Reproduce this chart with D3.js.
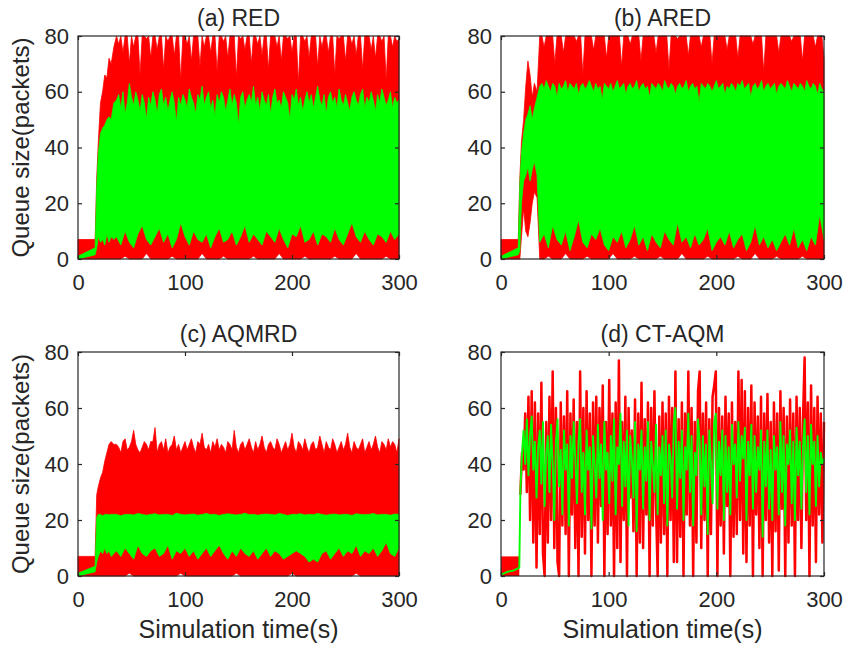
<!DOCTYPE html>
<html>
<head>
<meta charset="utf-8">
<script src="https://cdn.jsdelivr.net/npm/d3@7"></script>
<style>
  body { margin: 0; background: #fff; }
  text { font-family: "Liberation Sans", Arial, sans-serif; fill: #262626; }
</style>
</head>
<body>
<div id="chart"></div>
<script>
// time grids: start-up part, then upper edges every 2 s and lower edges every 4 s
var tStart = [0, 16, 17.5, 19, 21, 23, 25, 27, 29, 31, 33.5];
var tTop = tStart.concat(d3.range(36, 301, 2));
var tBot = tStart.concat(d3.range(36, 301, 4));

var xTicks = [0, 100, 200, 300];
var yTicks = [0, 20, 40, 60, 80];

// (a) RED - upper / lower envelopes of the queue traces
var redHiA = [7,7,29,42,56,60,66,65,72,70,76,
  80,77,80,74,80,80,70,80,76,80, 80,66,80,80,79,80,72,80,80,75,
  80,80,68,80,78,80,80,73,80,80, 64,80,80,77,80,71,80,80,80,69,
  80,76,80,80,74,80,80,67,80,80, 78,80,72,80,80,80,65,80,79,80,
  75,80,80,70,80,80,77,80,73,80, 80,68,80,80,80,76,80,71,80,80,
  79,80,74,80,80,63,80,80,78,80, 72,80,80,80,69,80,76,80,80,74,
  80,80,66,80,79,80,80,71,80,80, 77,80,73,80,80,68,80,80,80,75,
  80,72,80,80,78,80,64,80,80,76, 80,78,79];
var redLoA = [0,0,0,0,0,0,0,0,0,0,0,
  0,0,1,0,0,0,0,2,0,0, 0,0,0,1,0,0,0,0,0,0, 2,0,0,0,0,1,0,0,0,0,
  0,0,1,0,0,0,0,0,2,0, 0,0,0,0,1,0,0,0,0,0, 0,1,0,0,0,0,2,0,0,0, 0,0,0,1,0,0,0];
var greenHiA = [1,4,26,38,45,47,48,50,51,50,56,
  57,59,54,60,52,56,63,58,55,60, 57,53,59,56,50,58,55,60,57,52,
  59,61,55,58,53,57,60,56,49,58, 55,59,57,54,61,58,56,52,59,57,
  62,55,58,60,54,57,51,59,56,60, 58,53,57,61,55,59,56,48,58,60,
  54,57,59,56,62,55,58,53,60,57, 55,59,52,58,61,56,57,54,60,58,
  56,50,59,57,61,55,58,53,57,60, 56,59,54,58,62,57,55,59,52,58,
  60,56,58,54,61,57,55,59,56,53, 58,60,57,55,59,61,54,58,56,60,
  57,53,59,56,61,58,55,57,60,54, 58,56,57];
var greenLoA = [0,1.5,4,8,6,7,5,9,6,8,7,
  8,5,10,6,4,9,12,7,5,8, 11,6,9,4,7,13,8,5,10,7, 6,9,4,8,11,6,7,10,5,8,
  12,6,9,7,5,10,8,6,11,7, 4,9,8,12,6,7,10,5,9,8, 6,11,7,5,9,13,8,6,10,7, 5,9,8,6,10,7,9];

// (b) ARED
var redHiB = [7,7,29,42,50,62,71,66,58,63,60,
  80,80,76,80,80,80,80,70,80,80, 80,74,80,80,80,80,80,78,80,80,
  66,80,80,80,80,75,80,80,80,80, 80,72,80,80,80,80,80,80,69,80,
  80,80,77,80,80,80,80,71,80,80, 80,80,80,80,74,80,80,80,80,80,
  68,80,80,80,79,80,80,80,80,73, 80,80,80,80,80,76,80,80,80,80,
  70,80,80,80,80,80,80,75,80,80, 80,80,72,80,80,80,80,80,80,77,
  80,80,80,80,67,80,80,80,80,80, 80,74,80,80,80,80,80,78,80,80,
  80,80,71,80,80,80,80,80,76,80, 80,80,72];
var redLoB = [0,0,0,8,18,10,8,13,20,24,22,
  0,0,1,0,0,0,2,0,0,0, 0,1,0,0,0,0,0,2,0,0, 0,0,1,0,0,0,0,0,1,0,
  0,0,0,2,0,0,0,0,0,1, 0,0,0,0,0,0,1,0,0,0, 2,0,0,0,0,1,0,0,0,0, 0,1,0,0,0,0,0];
var greenHiB = [1,4,27,38,45,50,52,55,50,54,58,
  62,63,61,64,62,60,63,62,58,63, 61,62,64,60,63,62,61,63,59,62,
  63,61,62,64,62,60,63,61,62,57, 63,62,61,63,60,62,64,61,62,63,
  59,62,63,61,62,64,60,62,63,61, 62,58,63,62,61,63,62,60,64,62,
  61,63,62,59,62,63,61,62,64,60, 62,63,61,62,56,63,62,61,63,62,
  60,62,64,61,62,63,59,62,61,63, 62,60,63,62,64,61,62,63,58,62,
  63,61,62,64,60,62,63,61,62,63, 59,62,63,62,61,64,62,60,63,62,
  61,63,62,60,64,62,61,63,62,59, 63,61,60];
var greenLoB = [0,1.5,3,20,28,30,33,28,32,35,30,
  6,9,4,12,7,5,10,3,8,14, 6,4,9,7,11,5,3,8,6,10, 4,7,12,5,8,3,9,6,4,10,
  7,5,13,6,8,4,9,5,7,11, 3,6,8,5,10,4,7,9,3,6, 12,5,8,4,7,3,6,9,5,11, 4,7,3,8,5,16,7];

// (c) AQMRD
var redHiC = [7,7,29,32,35,37,41,44,47,48,47,
  47,46,44,48,49,45,46,48,52,47, 45,44,46,48,47,45,48,48,53,44,
  47,48,45,49,44,46,47,50,45,47, 44,46,48,45,47,49,46,44,48,47,
  51,46,45,47,44,48,46,49,45,47, 46,44,48,47,45,52,46,44,47,48,
  45,47,49,46,44,48,45,47,50,46, 44,47,48,46,45,49,47,44,46,48,
  45,47,51,46,44,48,47,45,49,46, 44,47,48,45,46,50,47,44,48,46,
  45,49,47,44,46,48,45,47,51,46, 44,48,46,45,47,49,44,46,48,45,
  47,50,46,44,48,47,45,49,46,48, 47,44,49];
var redLoC = [0,0,0,0,0,0,0,0,0,0,0,
  0,0,0,1,0,0,0,0,0,0, 0,0,0,0,0,1,0,0,0,0, 0,0,0,0,0,0,0,0,1,0,
  0,0,0,0,0,0,0,0,0,0, 0,1,0,0,0,0,0,0,0,0, 0,0,0,0,0,0,1,0,0,0, 0,0,0,0,0,0,0];
var greenHiC = [1,3.5,21,22,22,21.5,22,22,21.8,22,22,
  22,21.5,22,22,21.8,22.3,22,21.7,22,22.2, 21.8,22,22,21.6,22.4,22,21.8,22,22.1,21.7,
  22,22.3,21.9,22,21.6,22,22.2,22,21.8,22, 22.4,21.9,22,21.7,22,22.1,22,21.8,22.3,22,
  21.6,22,22,22.2,21.8,22,21.9,22.3,22,21.7, 22,22.1,21.8,22,22,21.6,22.2,22,21.9,22,
  22.3,21.8,22,22,21.7,22.1,22];
var greenLoC = [0,1.5,5,7,9,8,10,8,9,7,8,
  9,7,10,8,6,11,8,7,9,10, 7,8,11,6,9,8,10,7,9,6, 8,10,7,9,11,8,6,9,7,10,
  8,7,9,6,8,10,7,9,8,6, 7,8,9,8,7,5,6,5,8,9, 6,8,10,7,9,8,11,7,9,8, 10,7,9,12,8,7,10];

// (d) CT-AQM - sampled every 1.5 s from 18 s
var tD = d3.range(18, 300.1, 1.5);
var redD = [29,44,38,58,30,64,20,66,12,62, 3,58,15,69,8,0,55,12,64,20,
  73,10,60,5,0,62,18,57,15,66, 0,58,22,63,10,55,0,73,14,60,
  8,66,20,58,0,62,18,64,12,60, 25,68,0,55,15,70,18,58,0,62,
  10,77,5,55,20,64,0,60,28,52, 16,63,0,58,12,69,10,56,22,62,
  0,60,18,66,25,0,57,12,62,15, 58,0,64,20,60,5,73,5,56,14,
  62,0,58,22,73,18,60,0,55,12, 66,73,10,58,20,62,0,56,15,64,
  68,73,0,60,18,57,8,64,25,58, 0,62,14,55,15,73,20,70,8,66,
  5,60,18,68,0,62,22,57,10,64, 0,58,20,65,12,55,0,62,16,58,
  2,66,24,60,0,57,12,63,18,58, 0,64,20,60,10,56,78,20,62,0,
  68,18,60,5,64,22,58,12,55];
var greenD = [30,44,52,40,56,36,50,57,38,48, 28,46,52,33,55,25,44,50,30,54,
  40,20,48,56,32,45,22,52,38,47, 18,50,35,55,42,26,48,56,30,44,
  22,52,38,46,17,50,40,28,54,35, 47,20,55,38,44,26,50,34,56,22,
  46,40,58,25,48,32,52,18,50,42, 28,55,16,47,38,52,24,46,34,55,
  20,48,40,30,54,22,46,36,50,26, 52,18,47,42,28,55,60,24,48,35,
  52,20,46,38,58,30,50,18,44,36, 56,48,22,50,32,47,15,52,40,26,
  55,58,24,48,36,52,20,50,30,46, 22,54,40,47,28,55,34,50,42,53,
  20,48,36,54,24,50,30,46,38,52, 14,48,32,52,24,45,20,50,38,46,
  22,55,30,50,18,47,40,52,26,48, 20,53,36,48,24,46,56,30,50,22,
  54,40,48,25,50,32,44,40,42];
// start-up of (d): small queue before the flows arrive
var tDStart = [0, 6, 12, 17];
var greenDStart = [0.5, 1.5, 2, 3];
var redDBoxT = [0, 17];
var redDBoxHi = [7, 7];
var redDBoxLo = [0, 0];

var panels = [
  {title: "(a) RED",    left: 78,  top: 36,  right: 399, bottom: 259, ylab: true,  xlab: false,
   band: [redHiA, redLoA, greenHiA, greenLoA]},
  {title: "(b) ARED",   left: 501, top: 36,  right: 824, bottom: 259, ylab: false, xlab: false,
   band: [redHiB, redLoB, greenHiB, greenLoB]},
  {title: "(c) AQMRD",  left: 78,  top: 352, right: 399, bottom: 576, ylab: true,  xlab: true,
   band: [redHiC, redLoC, greenHiC, greenLoC]},
  {title: "(d) CT-AQM", left: 501, top: 352, right: 824, bottom: 576, ylab: false, xlab: true,
   band: null}
];

var RED = "#ff0000", GREEN = "#00ff00", INK = "#262626";

var svg = d3.select("#chart").append("svg")
  .attr("width", 844)
  .attr("height", 649);

// filled band: upper edge on its own grid, lower edge on its own grid
function bandPath(g, x, y, hi, lo, hiT, color) {
  var top = [], bot = [];
  for (var i = 0; i < Math.min(hi.length, hiT.length); i++) top.push([x(hiT[i]), y(hi[i])]);
  for (var j = 0; j < Math.min(lo.length, tBot.length); j++) bot.push([x(tBot[j]), y(lo[j])]);
  g.append("path")
    .attr("d", d3.line()(top.concat(bot.reverse())) + "Z")
    .attr("fill", color)
    .attr("stroke", color)
    .attr("stroke-width", 0.8)
    .attr("stroke-linejoin", "round");
}

function linePath(g, x, y, ts, vs, color, w) {
  var pts = ts.map((t, i) => ({t: t, v: vs[i]})).filter(d => d.v != null);
  var line = d3.line().x(d => x(d.t)).y(d => y(d.v));
  g.append("path")
    .datum(pts)
    .attr("d", line)
    .attr("fill", "none")
    .attr("stroke", color)
    .attr("stroke-width", w)
    .attr("stroke-linejoin", "round");
}

panels.forEach(function(p) {
  var x = d3.scaleLinear().domain([0, 300]).range([p.left, p.right]);
  var y = d3.scaleLinear().domain([0, 80]).range([p.bottom, p.top]);
  var g = svg.append("g");

  if (p.band) {
    // red upper edge is fine-grained in all three; green only in (a),(b)
    bandPath(g, x, y, p.band[0], p.band[1], tTop, RED);
    bandPath(g, x, y, p.band[2], p.band[3], p.band[2].length > 100 ? tTop : tBot, GREEN);
  } else {
    var box = redDBoxT.map((t, i) => ({t: t, hi: redDBoxHi[i], lo: redDBoxLo[i]}));
    g.append("path")
      .datum(box)
      .attr("d", d3.area().x(d => x(d.t)).y0(d => y(d.lo)).y1(d => y(d.hi)))
      .attr("fill", RED);
    linePath(g, x, y, tD, redD, RED, 2.5);
    linePath(g, x, y, tDStart.concat(tD), greenDStart.concat(greenD), GREEN, 1.9);
  }

  // frame
  g.append("rect")
    .attr("x", p.left).attr("y", p.top)
    .attr("width", p.right - p.left).attr("height", p.bottom - p.top)
    .attr("fill", "none").attr("stroke", INK).attr("stroke-width", 1.2);

  // axes with inward ticks (box style)
  var axB = g.append("g").attr("transform", `translate(0,${p.bottom})`)
    .call(d3.axisBottom(x).tickValues(xTicks).tickSizeInner(-4).tickSizeOuter(0).tickPadding(15));
  var axT = g.append("g").attr("transform", `translate(0,${p.top})`)
    .call(d3.axisTop(x).tickValues(xTicks).tickSizeInner(-4).tickSizeOuter(0).tickFormat(""));
  var axL = g.append("g").attr("transform", `translate(${p.left},0)`)
    .call(d3.axisLeft(y).tickValues(yTicks).tickSizeInner(-4).tickSizeOuter(0).tickPadding(9));
  var axR = g.append("g").attr("transform", `translate(${p.right},0)`)
    .call(d3.axisRight(y).tickValues(yTicks).tickSizeInner(-4).tickSizeOuter(0).tickFormat(""));
  [axB, axT, axL, axR].forEach(function(a) {
    a.select(".domain").remove();
    a.selectAll(".tick line").attr("stroke", INK).attr("stroke-width", 1.2);
    a.selectAll(".tick text")
      .style("font-family", '"Liberation Sans", Arial, sans-serif')
      .style("font-size", "22px")
      .attr("fill", INK);
  });

  g.append("text")
    .attr("x", (p.left + p.right) / 2)
    .attr("y", p.top - 10)
    .attr("text-anchor", "middle")
    .style("font-size", "23px")
    .text(p.title);

  if (p.ylab) {
    g.append("text")
      .attr("transform", `translate(29,${(p.top + p.bottom) / 2}) rotate(-90)`)
      .attr("text-anchor", "middle")
      .style("font-size", "24px")
      .text("Queue size(packets)");
  }
  if (p.xlab) {
    g.append("text")
      .attr("x", (p.left + p.right) / 2)
      .attr("y", 638)
      .attr("text-anchor", "middle")
      .style("font-size", "25px")
      .text("Simulation time(s)");
  }
});
</script>
</body>
</html>
